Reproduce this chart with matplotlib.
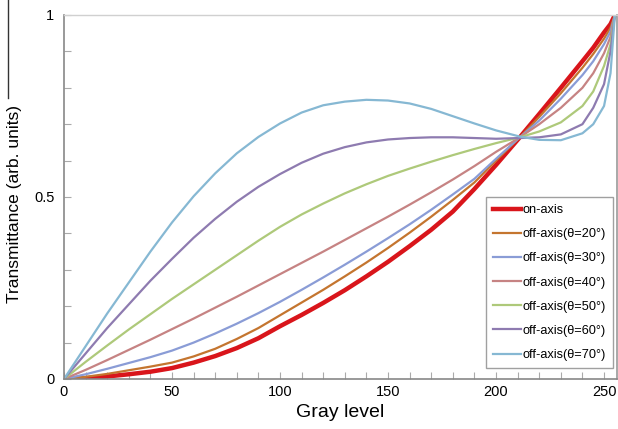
import matplotlib
matplotlib.use("Agg")
import matplotlib.pyplot as plt
from matplotlib.lines import Line2D

plt.rcParams['font.family'] = ['Liberation Sans', 'DejaVu Sans']

gray = [0, 10, 20, 30, 40, 50, 60, 70, 80, 90, 100, 110, 120, 130, 140, 150,
        160, 170, 180, 190, 200, 211, 220, 230, 240, 245, 250, 253, 255]

on_axis = [0, 0.002, 0.007, 0.013, 0.02, 0.03, 0.045, 0.063, 0.085, 0.112, 0.145,
           0.176, 0.209, 0.244, 0.282, 0.322, 0.365, 0.41, 0.46, 0.522, 0.588,
           0.664, 0.728, 0.8, 0.873, 0.91, 0.952, 0.975, 1.0]
off_20 = [0, 0.006, 0.014, 0.024, 0.034, 0.045, 0.062, 0.083, 0.11, 0.14, 0.175,
          0.21, 0.245, 0.282, 0.32, 0.36, 0.402, 0.446, 0.492, 0.54, 0.6,
          0.664, 0.72, 0.785, 0.855, 0.893, 0.935, 0.965, 1.0]
off_30 = [0, 0.013, 0.028, 0.044, 0.06, 0.078, 0.1, 0.125, 0.152, 0.181, 0.212,
          0.245, 0.279, 0.314, 0.35, 0.387, 0.425, 0.465, 0.507, 0.55, 0.605,
          0.664, 0.71, 0.77, 0.835, 0.873, 0.92, 0.955, 1.0]
off_40 = [0, 0.025, 0.052, 0.08, 0.108, 0.137, 0.166, 0.196, 0.226, 0.257, 0.288,
          0.319, 0.35, 0.382, 0.414, 0.446, 0.479, 0.513, 0.548, 0.585, 0.624,
          0.664, 0.7, 0.745, 0.8, 0.84, 0.895, 0.94, 1.0]
off_50 = [0, 0.047, 0.092, 0.136, 0.178, 0.22, 0.26, 0.3, 0.34, 0.38, 0.418,
          0.452, 0.482, 0.51, 0.535, 0.558, 0.578, 0.597, 0.615, 0.632, 0.648,
          0.664, 0.68, 0.705, 0.75, 0.79, 0.86, 0.92, 1.0]
off_60 = [0, 0.07, 0.14, 0.205, 0.27, 0.33, 0.388, 0.44, 0.487, 0.528, 0.563,
          0.594, 0.619, 0.637, 0.65, 0.658, 0.662, 0.664, 0.664, 0.662, 0.66,
          0.662, 0.664, 0.672, 0.7, 0.745, 0.81, 0.9, 1.0]
off_70 = [0, 0.09, 0.18, 0.265, 0.35, 0.43, 0.502, 0.565, 0.62, 0.665, 0.702,
          0.732, 0.752, 0.762, 0.767, 0.765, 0.757, 0.742, 0.722, 0.702, 0.683,
          0.666, 0.657, 0.656, 0.675, 0.7, 0.75, 0.84, 1.0]

labels = ['on-axis', 'off-axis(θ=20°)', 'off-axis(θ=30°)', 'off-axis(θ=40°)',
          'off-axis(θ=50°)', 'off-axis(θ=60°)', 'off-axis(θ=70°)']
series = [on_axis, off_20, off_30, off_40, off_50, off_60, off_70]
colors = ['#d9151b', '#c4752f', '#8a9cd6', '#c68383', '#aec97a', '#8e7bb0', '#86b8d3']
widths = [3.2, 1.6, 1.6, 1.6, 1.6, 1.6, 1.6]

fig = plt.figure(figsize=(6.18, 4.29), dpi=100)
ax = fig.add_axes([64/618, 1-379/429, 553/618, 364/429])

for vals, lab, c, w in zip(series, labels, colors, widths):
    ax.plot(gray, vals, color=c, lw=w, label=lab, solid_joinstyle='round')

ax.set_xlim(0, 256)
ax.set_ylim(0, 1)
ax.set_xticks([0, 50, 100, 150, 200, 250])
ax.set_xticks(range(0, 256, 10), minor=True)
ax.set_yticks([0, 0.5, 1])
ax.set_yticklabels(['0', '0.5', '1'])
ax.set_yticks([i/10 for i in range(11)], minor=True)
ax.tick_params(axis='both', which='both', direction='in', length=5, width=0.8,
               color='#aaaaaa', labelsize=10.5, pad=7)
ax.tick_params(axis='x', which='major', pad=4)

for s in ['left', 'bottom']:
    ax.spines[s].set_color('#888888')
    ax.spines[s].set_linewidth(1.2)
ax.spines['top'].set_color('#d0d0d0')
ax.spines['top'].set_linewidth(1.0)
ax.spines['right'].set_color('#999999')
ax.spines['right'].set_linewidth(1.2)

ax.set_xlabel('Gray level', fontsize=14, labelpad=4)
ax.set_ylabel('Transmittance (arb. units)', fontsize=12.5)
ax.yaxis.set_label_coords(-0.076, 0.482)

leg = ax.legend(loc='lower right', bbox_to_anchor=(0.993, 0.03), borderaxespad=0,
                fontsize=9.2, labelspacing=0.95, handlelength=2.2, handletextpad=0.1,
                borderpad=0.55, fancybox=False, frameon=True)
leg.get_frame().set_edgecolor('#888888')
leg.get_frame().set_linewidth(1.0)

fig.add_artist(Line2D([8/618, 8/618], [1, 1-98/429], transform=fig.transFigure,
                      color='#333333', lw=1.0))

fig.savefig('out.png', dpi=100)
